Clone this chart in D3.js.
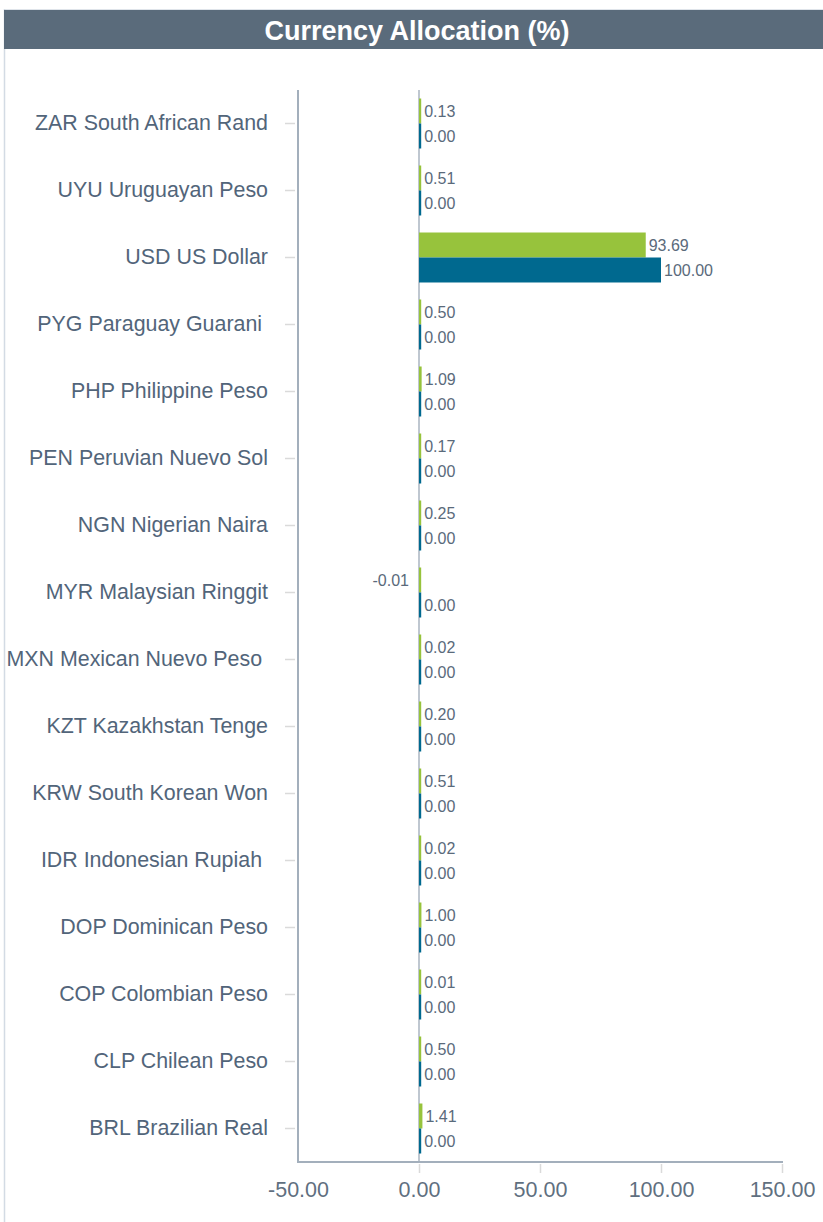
<!DOCTYPE html>
<html>
<head>
<meta charset="utf-8">
<script src="https://cdn.jsdelivr.net/npm/d3@7/dist/d3.min.js"></script>
<style>
  html, body { margin: 0; padding: 0; background: #fff; }
  svg { display: block; font-family: "Liberation Sans", Arial, sans-serif; }
</style>
</head>
<body>
<svg id="chart" width="823" height="1222"></svg>
<script>
// Currency allocation, top row first
const categories = [
  "ZAR South African Rand",
  "UYU Uruguayan Peso",
  "USD US Dollar",
  "PYG Paraguay Guarani ",
  "PHP Philippine Peso",
  "PEN Peruvian Nuevo Sol",
  "NGN Nigerian Naira",
  "MYR Malaysian Ringgit",
  "MXN Mexican Nuevo Peso ",
  "KZT Kazakhstan Tenge",
  "KRW South Korean Won",
  "IDR Indonesian Rupiah ",
  "DOP Dominican Peso",
  "COP Colombian Peso",
  "CLP Chilean Peso",
  "BRL Brazilian Real"
];
const fundPct      = [0.13, 0.51, 93.69, 0.50, 1.09, 0.17, 0.25, -0.01, 0.02, 0.20, 0.51, 0.02, 1.00, 0.01, 0.50, 1.41];
const benchmarkPct = [0.00, 0.00, 100.00, 0.00, 0.00, 0.00, 0.00, 0.00, 0.00, 0.00, 0.00, 0.00, 0.00, 0.00, 0.00, 0.00];
const xTicks = [-50, 0, 50, 100, 150];
const seriesKeys = ["fund", "benchmark"];
const seriesColors = { fund: "#97c33c", benchmark: "#00698f" };

// two-decimal format with a plain hyphen for negatives
const fmt = d3.formatLocale({ decimal: ".", thousands: ",", grouping: [3], currency: ["", ""], minus: "-" }).format(".2f");

const svg = d3.select("#chart");
const W = 823;

// frame and title bar
svg.append("line").attr("x1", 4).attr("x2", W).attr("y1", 9.5).attr("y2", 9.5)
  .attr("stroke", "#dfe4ea").attr("stroke-width", 1);
svg.append("line").attr("x1", 4.5).attr("x2", 4.5).attr("y1", 9).attr("y2", 1222)
  .attr("stroke", "#d3dbe4").attr("stroke-width", 1.5);
svg.append("rect").attr("x", 4).attr("y", 10).attr("width", W - 4).attr("height", 39)
  .attr("fill", "#5a6b7b");
svg.append("text").attr("x", 417).attr("y", 30).attr("dy", "0.36em")
  .attr("text-anchor", "middle").attr("fill", "#fff")
  .attr("font-weight", "bold").attr("font-size", 27)
  .text("Currency Allocation (%)");

const plotLeft = 298, plotRight = 782, plotTop = 90, plotBottom = 1162;

const x = d3.scaleLinear().domain([-50, 150]).range([plotLeft, plotRight]);
const y = d3.scaleBand().domain(categories).range([plotTop, plotBottom])
  .paddingInner(0.254).paddingOuter(0.127);
const ySub = d3.scaleBand().domain(seriesKeys).range([0, y.bandwidth()]);

const rows = categories.map((c, i) => ({
  cat: c,
  values: [
    { key: "fund", v: fundPct[i] },
    { key: "benchmark", v: benchmarkPct[i] }
  ]
}));

// bottom axis ticks
const xAxis = d3.axisBottom(x).tickValues(xTicks).tickFormat(fmt)
  .tickSize(11).tickPadding(9);
const gx = svg.append("g").attr("transform", `translate(0,${plotBottom})`).call(xAxis);
gx.select(".domain").remove();
gx.selectAll(".tick line").attr("stroke", "#dadada").attr("stroke-width", 1.5)
  .attr("y1", 2);
gx.selectAll(".tick").filter(d => d === -50).select("line").remove();
gx.selectAll(".tick text").attr("fill", "#5f6f80").attr("font-size", 21.5)
  .attr("font-family", "Liberation Sans, Arial, sans-serif");

// left category axis
const yAxis = d3.axisLeft(y).tickSize(12).tickPadding(17);
const gy = svg.append("g").attr("transform", `translate(${plotLeft - 1},0)`).call(yAxis);
gy.select(".domain").remove();
gy.selectAll(".tick line").attr("stroke", "#dadada").attr("stroke-width", 1.5)
  .attr("x1", -2);
gy.selectAll(".tick text").attr("fill", "#52657a").attr("font-size", 21.4)
  .attr("font-family", "Liberation Sans, Arial, sans-serif")
  .style("white-space", "pre");

// zero reference line
svg.append("line").attr("x1", x(0)).attr("x2", x(0)).attr("y1", plotTop).attr("y2", plotBottom)
  .attr("stroke", "#aab5c1").attr("stroke-width", 1.5);

// axis lines
svg.append("line").attr("x1", plotLeft).attr("x2", plotLeft).attr("y1", plotTop).attr("y2", plotBottom + 1)
  .attr("stroke", "#a3afbc").attr("stroke-width", 2);
svg.append("line").attr("x1", plotLeft).attr("x2", plotRight + 1).attr("y1", plotBottom).attr("y2", plotBottom)
  .attr("stroke", "#a3afbc").attr("stroke-width", 2);

// bars and value labels
const minW = 2.2;
const groups = svg.append("g").selectAll("g").data(rows).join("g")
  .attr("transform", d => `translate(0,${y(d.cat)})`);

groups.selectAll("rect").data(d => d.values).join("rect")
  .attr("x", d => d.v >= 0 ? x(0) : Math.min(x(d.v), x(0)))
  .attr("y", d => ySub(d.key))
  .attr("width", d => Math.max(minW, Math.abs(x(d.v) - x(0))))
  .attr("height", ySub.bandwidth())
  .attr("fill", d => seriesColors[d.key]);

groups.selectAll("text").data(d => d.values).join("text")
  .attr("x", d => d.v >= 0 ? x(0) + Math.max(minW, x(d.v) - x(0)) + 3 : x(0) - 10)
  .attr("y", d => ySub(d.key) + ySub.bandwidth() / 2)
  .attr("dy", "0.35em")
  .attr("text-anchor", d => d.v >= 0 ? "start" : "end")
  .attr("fill", "#5a6a7b").attr("font-size", 16)
  .text(d => fmt(d.v));
</script>
</body>
</html>
